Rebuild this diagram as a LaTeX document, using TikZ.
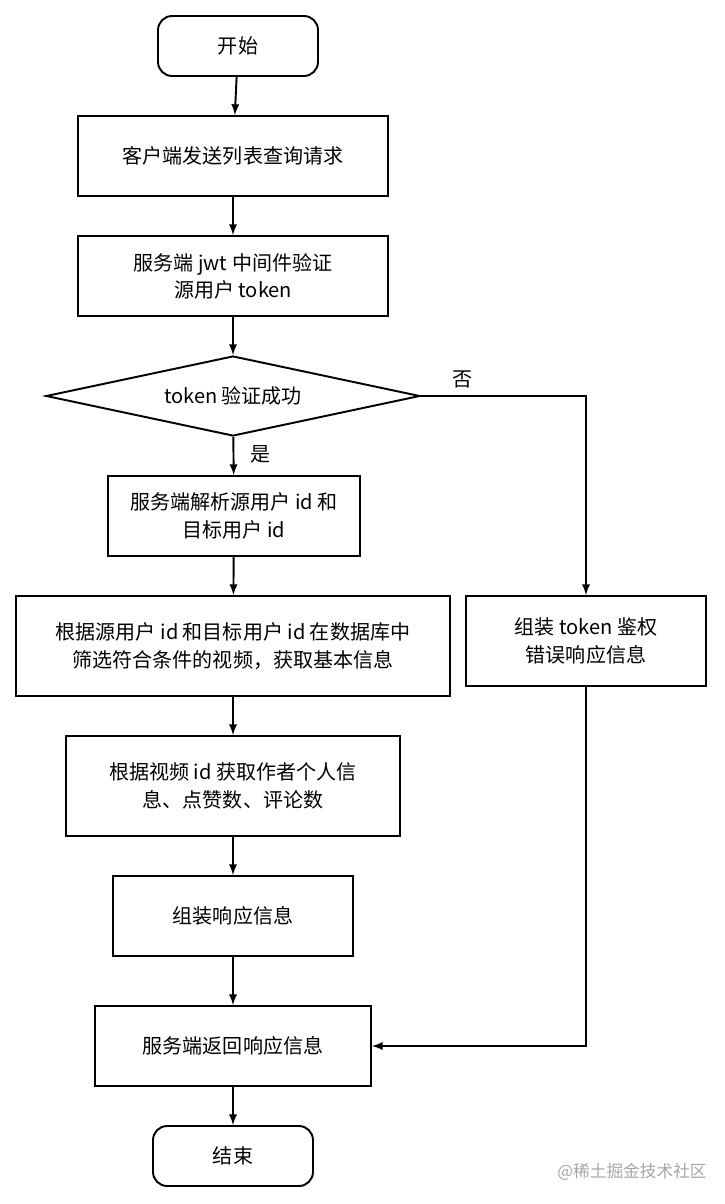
\documentclass[tikz,border=0pt]{standalone}
\usepackage{fontspec}
\setmainfont{Noto Sans CJK SC}
\usetikzlibrary{arrows,shapes.geometric}

\begin{document}
\begin{tikzpicture}[x=0.02cm,y=-0.02cm,line width=1.1pt,
  every node/.style={font=\fontsize{11.4}{15.5}\selectfont,align=center,inner sep=1pt},
  box/.style={draw,rectangle,minimum height=#1},
  term/.style={draw,rounded corners=8pt,minimum width=3.2cm,minimum height=1.2cm},
  arr/.style={-latex}]
\useasboundingbox (0,0) rectangle (724,1204);

\node[term] (start) at (238,46) {开始};
\node[box=1.6cm,minimum width=6.2cm] (send) at (233,156) {客户端发送列表查询请求};
\node[box=1.6cm,minimum width=6.2cm] (jwt) at (233,276) {服务端 jwt 中间件验证\\源用户 token};
\node[draw,diamond,aspect=4.675,minimum width=7.48cm,minimum height=1.6cm,inner sep=0pt] (check) at (233,396) {token 验证成功};
\node[box=1.6cm,minimum width=5.04cm] (parse) at (234,516) {服务端解析源用户 id 和\\目标用户 id};
\node[box=2cm,minimum width=8.68cm] (query) at (233,646) {根据源用户 id 和目标用户 id 在数据库中\\筛选符合条件的视频，获取基本信息};
\node[box=2cm,minimum width=6.68cm] (info) at (233,786) {根据视频 id 获取作者个人信\\息、点赞数、评论数};
\node[box=1.6cm,minimum width=4.8cm] (pack) at (233,916) {组装响应信息};
\node[box=1.6cm,minimum width=5.52cm] (reply) at (233,1046) {服务端返回响应信息};
\node[term] (stop) at (233,1156) {结束};
\node[box=1.8cm,minimum width=4.8cm] (err) at (586,641) {组装 token 鉴权\\错误响应信息};
\coordinate (turn) at (586,396);
\coordinate (back) at (586,1046);

\draw[arr] (start) -- (send);
\draw[arr] (send) -- (jwt);
\draw[arr] (jwt) -- (check);
\draw[arr] (check) -- node[pos=0.45,right=8pt] {是} (parse);
\draw[arr] (parse) -- (query);
\draw[arr] (query) -- (info);
\draw[arr] (info) -- (pack);
\draw[arr] (pack) -- (reply);
\draw[arr] (reply) -- (stop);
\draw[arr] (check.east) -- node[pos=0.25,above=3pt] {否} (turn) -- (err);
\draw[arr] (err) -- (back) -- (reply);

\node[text=gray!70,font=\fontsize{9.5}{11}\selectfont] (mark) at (632,1172) {@稀土掘金技术社区};
\end{tikzpicture}
\end{document}
